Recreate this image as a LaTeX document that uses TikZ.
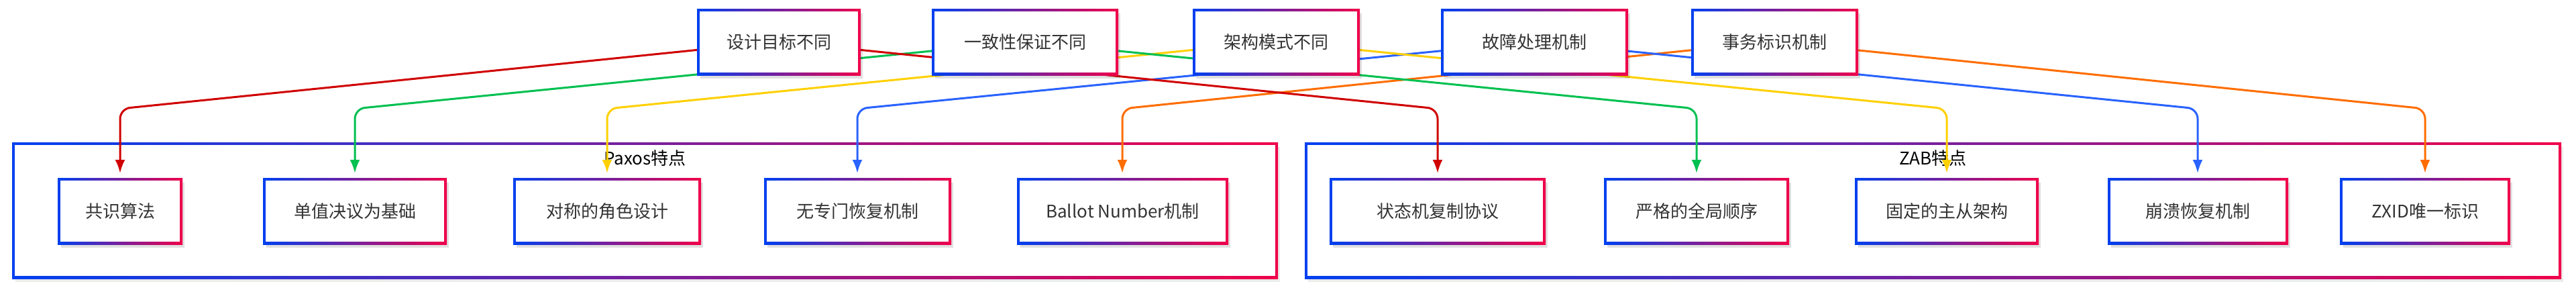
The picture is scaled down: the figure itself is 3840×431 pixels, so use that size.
\documentclass[tikz,border=0pt]{standalone}
\usepackage{fontspec}
\setmainfont{Noto Sans CJK SC}
\usetikzlibrary{arrows.meta,calc}
\definecolor{gb}{HTML}{0040F0}
\definecolor{gr}{HTML}{F0004A}
\definecolor{cR}{HTML}{D00000}
\definecolor{cG}{HTML}{00C050}
\definecolor{cY}{HTML}{FFD000}
\definecolor{cB}{HTML}{2962FF}
\definecolor{cO}{HTML}{FF6D00}
\definecolor{txt}{HTML}{333333}
\tikzset{
  conn/.style={line width=3pt, rounded corners=15pt, -{Latex[length=20pt,width=15pt]}, shorten >=9pt},
  inner/.style={fill=white, inner sep=0pt, text=txt, font=\fontsize{26}{30}\selectfont},
}
% name, x1, y1, x2, y2, text (y downward)
\newcommand\gnode[6]{%
  \fill[black, opacity=0.12] (#2+3,#3+5) rectangle (#4+5,#5+7);
  \shade[left color=gb, right color=gr] (#2-2,#3-2) rectangle (#4+2,#5+2);
  \node[inner, minimum width={(#4-#2-4)*1pt}, minimum height={(#5-#3-4)*1pt}] (#1) at ({(#2+#4)/2},{(#3+#5)/2}) {#6};
}
\newcommand\ggroup[6]{%
  \fill[black, opacity=0.08] (#2+3,#3+5) rectangle (#4+5,#5+7);
  \shade[left color=gb, right color=gr] (#2-2,#3-2) rectangle (#4+2,#5+2);
  \fill[white] (#2+2,#3+2) rectangle (#4-2,#5-2);
  \node[text=black, font=\fontsize{26}{30}\selectfont, inner sep=0pt] (#1) at ({(#2+#4)/2},#3+22) {#6};
}
\begin{document}
\begin{tikzpicture}[x=1pt,y=-1pt]
\useasboundingbox (0,0) rectangle (3840,431);
\ggroup{gP}{20}{214}{1903}{413}{Paxos特点}
\ggroup{gZ}{1947}{214}{3816}{413}{ZAB特点}
\coordinate (elev) at (0,162);
\coordinate (t1) at (1161,62);
\coordinate (t2) at (1528,62);
\coordinate (t3) at (1902,62);
\coordinate (t4) at (2287,62);
\coordinate (t5) at (2645,62);
\coordinate (p1) at (179,267);
\coordinate (p2) at (529,267);
\coordinate (p3) at (905,267);
\coordinate (p4) at (1278,267);
\coordinate (p5) at (1673,267);
\coordinate (z1) at (2143,267);
\coordinate (z2) at (2529,267);
\coordinate (z3) at (2902,267);
\coordinate (z4) at (3276,267);
\coordinate (z5) at (3615,267);
\draw[conn,cR] (t1) -- (p1 |- elev) -- (p1);
\draw[conn,cG] (t2) -- (p2 |- elev) -- (p2);
\draw[conn,cY] (t3) -- (p3 |- elev) -- (p3);
\draw[conn,cB] (t4) -- (p4 |- elev) -- (p4);
\draw[conn,cO] (t5) -- (p5 |- elev) -- (p5);
\draw[conn,cR] (t1) -- (z1 |- elev) -- (z1);
\draw[conn,cG] (t2) -- (z2 |- elev) -- (z2);
\draw[conn,cY] (t3) -- (z3 |- elev) -- (z3);
\draw[conn,cB] (t4) -- (z4 |- elev) -- (z4);
\draw[conn,cO] (t5) -- (z5 |- elev) -- (z5);
\gnode{a1}{1041}{15}{1281}{110}{设计目标不同}
\gnode{a2}{1391}{15}{1665}{110}{一致性保证不同}
\gnode{a3}{1780}{15}{2025}{110}{架构模式不同}
\gnode{a4}{2150}{15}{2425}{110}{故障处理机制}
\gnode{a5}{2523}{15}{2768}{110}{事务标识机制}
\gnode{n1}{88}{267}{270}{362}{共识算法}
\gnode{n2}{394}{267}{664}{362}{单值决议为基础}
\gnode{n3}{767}{267}{1043}{362}{对称的角色设计}
\gnode{n4}{1141}{267}{1416}{362}{无专门恢复机制}
\gnode{n5}{1518}{267}{1829}{362}{Ballot Number机制}
\gnode{m1}{1984}{267}{2302}{362}{状态机复制协议}
\gnode{m2}{2393}{267}{2665}{362}{严格的全局顺序}
\gnode{m3}{2767}{267}{3037}{362}{固定的主从架构}
\gnode{m4}{3144}{267}{3409}{362}{崩溃恢复机制}
\gnode{m5}{3490}{267}{3740}{362}{ZXID唯一标识}
\end{tikzpicture}
\end{document}
